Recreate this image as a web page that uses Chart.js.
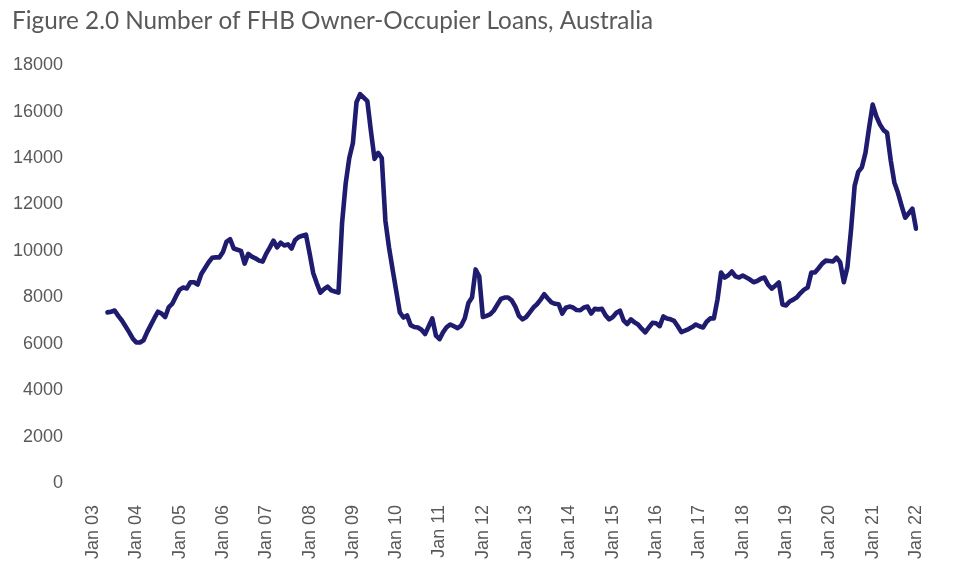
<!DOCTYPE html>
<html>
<head>
<meta charset="utf-8">
<script src="https://cdn.jsdelivr.net/npm/chart.js@4/dist/chart.umd.min.js"></script>
<style>
  html, body { margin: 0; padding: 0; background: #ffffff; }
  #wrap { width: 971px; height: 571px; }
</style>
</head>
<body>
<div id="wrap"><canvas id="c" width="971" height="571"></canvas></div>
<script>
// ---- Data (number of FHB owner-occupier loans, monthly) ----
const titleText = 'Figure 2.0 Number of FHB Owner-Occupier Loans, Australia';
const monthNames = ['Jan','Feb','Mar','Apr','May','Jun','Jul','Aug','Sep','Oct','Nov','Dec'];
const yearLabels = ['03','04','05','06','07','08','09','10','11','12','13','14','15','16','17','18','19','20','21','22'];
const tickLabels = ['Jan 03','Jan 04','Jan 05','Jan 06','Jan 07','Jan 08','Jan 09','Jan 10','Jan 11','Jan 12',
                    'Jan 13','Jan 14','Jan 15','Jan 16','Jan 17','Jan 18','Jan 19','Jan 20','Jan 21','Jan 22'];
const yTicks = [0, 2000, 4000, 6000, 8000, 10000, 12000, 14000, 16000, 18000];

const v2003 = [null, null, null, null, 7350, 7380, 7430, 7200, 7000, 6750, 6500, 6230];
const v2004 = [6050, 6050, 6150, 6500, 6800, 7100, 7380, 7300, 7150, 7580, 7730, 8050];
const v2005 = [8330, 8420, 8380, 8650, 8650, 8550, 9000, 9250, 9500, 9700, 9720, 9720];
const v2006 = [9950, 10400, 10500, 10100, 10050, 10000, 9450, 9870, 9750, 9680, 9580, 9540];
const v2007 = [9880, 10150, 10440, 10150, 10350, 10230, 10280, 10100, 10470, 10600, 10650, 10700];
const v2008 = [9900, 9050, 8600, 8200, 8350, 8460, 8300, 8250, 8205, 11200, 12900, 14000];
const v2009 = [14650, 16400, 16750, 16600, 16450, 15150, 13960, 14220, 14000, 11300, 10150, 9200];
const v2010 = [8280, 7350, 7130, 7220, 6800, 6720, 6700, 6600, 6420, 6750, 7090, 6350];
const v2011 = [6200, 6500, 6720, 6830, 6750, 6670, 6780, 7100, 7750, 7990, 9200, 8900];
const v2012 = [7150, 7200, 7260, 7420, 7680, 7930, 7990, 7990, 7870, 7600, 7200, 7050];
const v2013 = [7150, 7350, 7560, 7700, 7900, 8130, 7950, 7780, 7720, 7700, 7300, 7550];
const v2014 = [7600, 7560, 7450, 7440, 7560, 7600, 7300, 7500, 7480, 7500, 7220, 7050];
const v2015 = [7150, 7330, 7420, 7000, 6850, 7050, 6920, 6830, 6650, 6490, 6700, 6900];
const v2016 = [6880, 6760, 7175, 7090, 7050, 6980, 6750, 6500, 6560, 6630, 6720, 6830];
const v2017 = [6750, 6700, 6950, 7090, 7090, 7900, 9065, 8850, 8950, 9110, 8900, 8850];
const v2018 = [8935, 8850, 8765, 8650, 8700, 8800, 8850, 8550, 8375, 8500, 8635, 7690];
const v2019 = [7650, 7820, 7900, 8000, 8180, 8330, 8420, 9065, 9065, 9250, 9450, 9580];
const v2020 = [9560, 9540, 9710, 9500, 8650, 9300, 10900, 12800, 13400, 13600, 14220, 15300];
const v2021 = [16300, 15800, 15450, 15200, 15080, 13900, 12950, 12500, 11950, 11430, 11620, 11815];
const v2022 = [10955];

const yearValues = [v2003, v2004, v2005, v2006, v2007, v2008, v2009, v2010, v2011, v2012,
                    v2013, v2014, v2015, v2016, v2017, v2018, v2019, v2020, v2021, v2022];

// categories: one per month, Jan 03 .. Jan 22
const categories = [];
const values = [];
yearValues.forEach((arr, yi) => {
  arr.forEach((v, mi) => {
    categories.push(monthNames[mi] + ' ' + yearLabels[yi]);
    values.push(v);
  });
});

const textColor = '#595959';
const axisFont = { family: '"Liberation Sans", Arial, sans-serif', size: 18 };

new Chart(document.getElementById('c'), {
  type: 'line',
  data: {
    labels: categories,
    datasets: [{
      data: values,
      borderColor: '#1F1B6E',
      borderWidth: 4.6,
      pointRadius: 0,
      pointHoverRadius: 0,
      tension: 0,
      borderCapStyle: 'round',
      borderJoinStyle: 'round',
      spanGaps: false,
      fill: false
    }]
  },
  options: {
    responsive: false,
    animation: false,
    events: [],
    layout: { padding: { left: 12, right: 55, top: 0, bottom: 0 } },
    plugins: {
      legend: { display: false },
      tooltip: { enabled: false },
      title: {
        display: true,
        text: titleText,
        align: 'start',
        color: textColor,
        font: { family: 'Lato, "Open Sans", sans-serif', size: 24.3, weight: 'normal' },
        padding: { top: 7, bottom: 29 }
      }
    },
    scales: {
      x: {
        type: 'category',
        offset: false,
        grid: { display: false },
        border: { display: false },
        afterFit: (scale) => {
          scale.paddingLeft = 0;
          scale.paddingRight = 0;
          scale.height = 88;
        },
        ticks: {
          autoSkip: false,
          minRotation: 90,
          maxRotation: 90,
          color: textColor,
          font: axisFont,
          padding: 14,
          callback: function (val, idx) {
            const lab = categories[idx];
            return tickLabels.includes(lab) ? lab : null;
          }
        }
      },
      y: {
        min: 0,
        max: 18000,
        afterBuildTicks: (scale) => { scale.ticks = yTicks.map(v => ({ value: v })); },
        afterFit: (scale) => {
          scale.paddingTop = 0;
          scale.paddingBottom = 0;
          scale.width = 81;
        },
        grid: { display: false, drawTicks: false },
        border: { display: false },
        ticks: {
          color: textColor,
          font: axisFont,
          padding: 30,
          callback: (v) => String(v)
        }
      }
    }
  }
});
</script>
</body>
</html>
